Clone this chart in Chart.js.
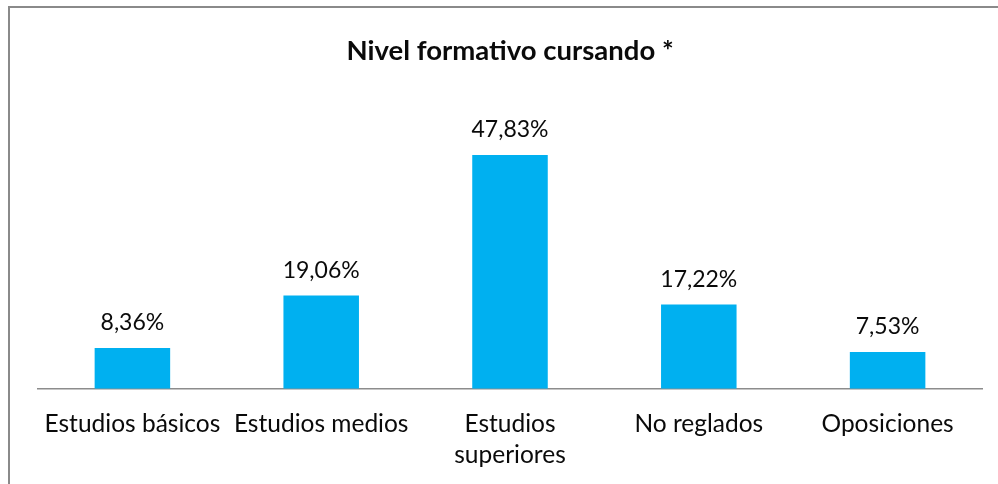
<!DOCTYPE html>
<html lang="es">
<head>
  <meta charset="UTF-8">
  <title>Nivel formativo cursando</title>
  <script src="https://cdn.jsdelivr.net/npm/chart.js"></script>
  <style>
    html, body { margin: 0; padding: 0; background: #fff; overflow: hidden; }
    #box {
      position: absolute; left: 8px; top: 6px;
      width: 988px; height: 482px;
      border: 2px solid #8a8a8a;
      background: #fff;
    }
    canvas { display: block; }
  </style>
</head>
<body>
  <div id="box"><canvas id="chart" width="988" height="482"></canvas></div>

  <script>
    const categories = ['Estudios básicos', 'Estudios medios', ['Estudios', 'superiores'], 'No reglados', 'Oposiciones'];
    const values = [8.36, 19.06, 47.83, 17.22, 7.53];
    const valueLabels = ['8,36%', '19,06%', '47,83%', '17,22%', '7,53%'];

    const barColor = '#00B0F0';
    const textColor = '#0a0a0a';
    const fontFamily = 'Lato, "Noto Sans", sans-serif';

    // etiquetas encima de cada barra
    const valueLabelPlugin = {
      id: 'valueLabels',
      afterDatasetsDraw(chart) {
        const ctx = chart.ctx;
        const meta = chart.getDatasetMeta(0);
        ctx.save();
        ctx.font = '23px ' + fontFamily;
        ctx.fillStyle = textColor;
        ctx.textAlign = 'center';
        ctx.textBaseline = 'alphabetic';
        meta.data.forEach((bar, i) => {
          ctx.fillText(valueLabels[i], bar.x, bar.y - 18);
        });
        ctx.restore();
      }
    };

    new Chart(document.getElementById('chart'), {
      type: 'bar',
      data: {
        labels: categories,
        datasets: [{
          data: values,
          backgroundColor: barColor,
          borderWidth: 0,
          categoryPercentage: 1,
          barPercentage: 0.4
        }]
      },
      options: {
        responsive: false,
        animation: false,
        layout: { padding: { left: 28, right: 16, top: 0, bottom: 0 } },
        scales: {
          x: {
            grid: { display: false, drawTicks: false },
            border: { display: true, color: '#8c8c8c', width: 1.5 },
            ticks: {
              color: textColor,
              font: { family: fontFamily, size: 24.5, lineHeight: 1.25 },
              padding: 20,
              maxRotation: 0,
              autoSkip: false
            }
          },
          y: {
            display: false,
            min: 0,
            max: 60
          }
        },
        plugins: {
          legend: { display: false },
          tooltip: { enabled: false },
          title: {
            display: true,
            text: 'Nivel formativo cursando *',
            color: textColor,
            font: { family: fontFamily, size: 27.5, weight: 'bold', lineHeight: 1.2 },
            padding: { top: 26.5, bottom: 28 }
          }
        }
      },
      plugins: [valueLabelPlugin]
    });
  </script>
</body>
</html>
